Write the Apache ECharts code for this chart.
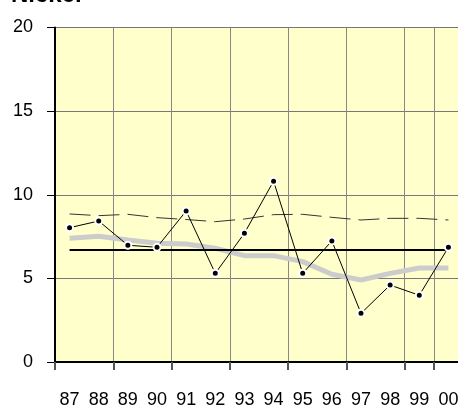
<!DOCTYPE html>
<html>
<head>
<meta charset="utf-8">
<script src="https://cdn.jsdelivr.net/npm/echarts@6/dist/echarts.min.js"></script>
<style>
html,body{margin:0;padding:0;background:#fff;}
#chart{width:458px;height:408px;}
</style>
</head>
<body>
<div id="chart"></div>
<script>
const titleText = 'Nickel';
const years = ['87','88','89','90','91','92','93','94','95','96','97','98','99','00'];
const annual = [8.03, 8.43, 6.98, 6.86, 9.03, 5.30, 7.70, 10.81, 5.30, 7.24, 2.91, 4.60, 3.99, 6.86];
const average = [6.7, 6.7, 6.7, 6.7, 6.7, 6.7, 6.7, 6.7, 6.7, 6.7, 6.7, 6.7, 6.7, 6.7];
const upper = [8.85, 8.75, 8.83, 8.63, 8.52, 8.39, 8.55, 8.81, 8.83, 8.65, 8.49, 8.59, 8.59, 8.49];
const trend = [7.40, 7.52, 7.30, 7.10, 7.06, 6.80, 6.36, 6.36, 6.00, 5.25, 4.90, 5.30, 5.62, 5.62];
const yTicks = [0, 5, 10, 15, 20];

const chart = echarts.init(document.getElementById('chart'), null, {renderer: 'canvas'});
const font = '"Liberation Sans", Arial, sans-serif';
chart.setOption({
  animation: false,
  backgroundColor: '#ffffff',
  title: {
    text: titleText,
    left: 6,
    top: -22,
    textStyle: {fontFamily: font, fontSize: 24, fontWeight: 'bold', color: '#000'}
  },
  grid: {
    left: 55, right: -5, top: 27.5, bottom: 46,
    containLabel: false,
    outerBoundsMode: 'none',
    show: true, backgroundColor: '#FFFFCC', borderWidth: 0
  },
  xAxis: {
    type: 'category',
    data: years,
    boundaryGap: true,
    axisLine: {lineStyle: {color: '#000', width: 2}},
    axisTick: {show: true, interval: 1, length: 8, lineStyle: {color: '#555', width: 2}},
    axisLabel: {interval: 0, margin: 29, fontFamily: font, fontSize: 18, color: '#000'},
    splitLine: {show: true, interval: 1, lineStyle: {color: '#888', width: 1}}
  },
  yAxis: {
    type: 'value',
    min: yTicks[0], max: yTicks[yTicks.length - 1], interval: 5,
    axisLine: {show: true, lineStyle: {color: '#000', width: 2}},
    axisTick: {show: true, length: 8, lineStyle: {color: '#000', width: 1}},
    axisLabel: {margin: 22, fontFamily: font, fontSize: 18, color: '#000'},
    splitLine: {show: true, lineStyle: {color: '#777', width: 1}}
  },
  series: [
    {
      type: 'line', data: trend, symbol: 'none', z: 1,
      lineStyle: {color: '#CCCCCC', width: 5}
    },
    {
      type: 'line', data: average, symbol: 'none', z: 2,
      lineStyle: {color: '#000', width: 2}
    },
    {
      type: 'line', data: upper, symbol: 'none', z: 3,
      lineStyle: {color: '#333', width: 1, type: [21, 8]}
    },
    {
      type: 'line', data: annual, z: 4,
      symbol: 'circle', symbolSize: 7,
      itemStyle: {color: '#000', borderColor: '#fff', borderWidth: 2},
      lineStyle: {color: '#000', width: 1}
    }
  ]
});
</script>
</body>
</html>
